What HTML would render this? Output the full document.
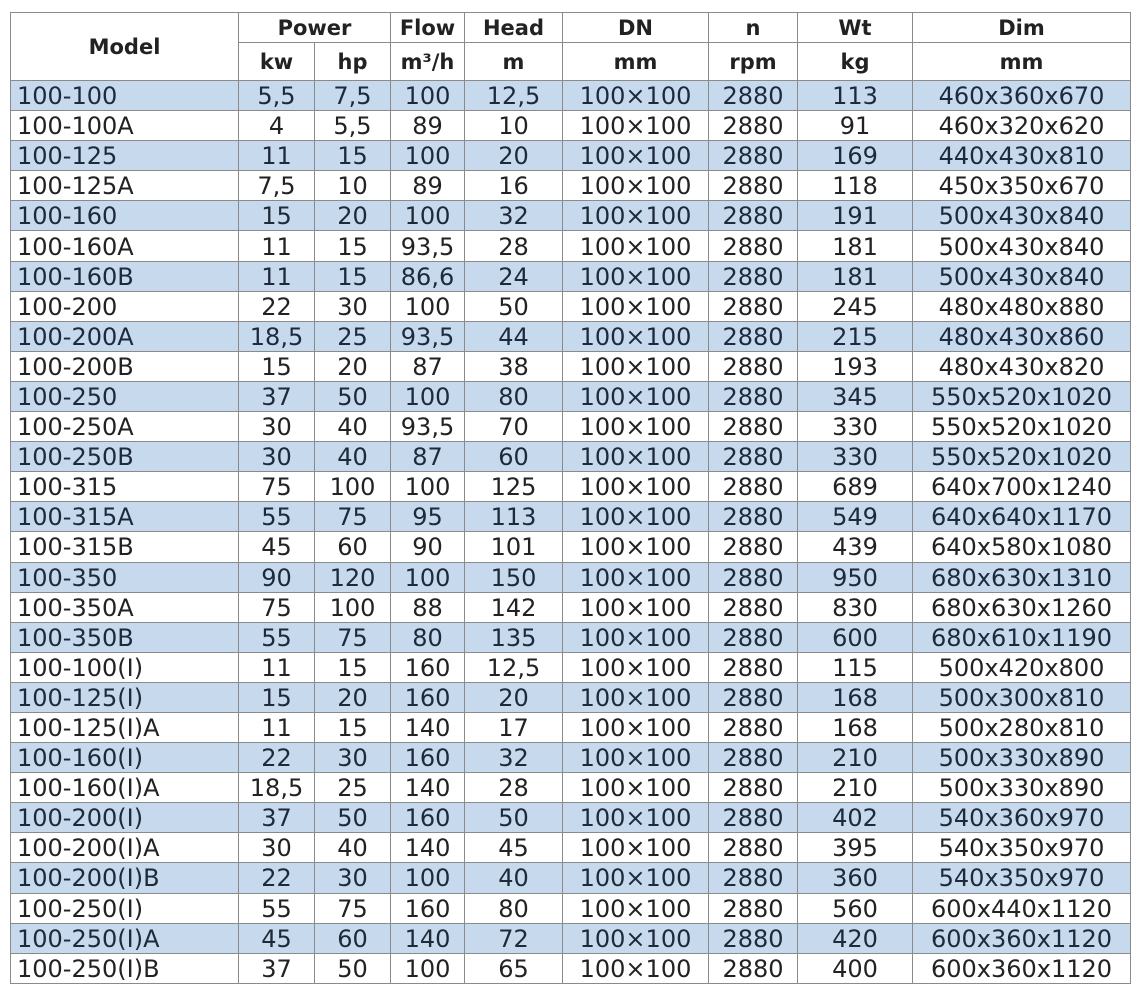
<!DOCTYPE html>
<html><head><meta charset="utf-8"><style>
body{margin:0;background:#fff;width:1147px;height:1000px;overflow:hidden}
table{position:absolute;left:10px;top:12px;border-collapse:collapse;table-layout:fixed;font-family:"DejaVu Sans","Liberation Sans",sans-serif;color:#222}
td,th{border:1.5px solid #8a8a8a;padding:0;text-align:center;white-space:nowrap;overflow:hidden}
th{font-weight:bold;font-size:21px;color:#222}
td{font-size:24px;height:28.1px;line-height:28px;padding-top:1px}
td:first-child{text-align:left;padding-left:6px}
tr.b td{background:#c6d9ed;color:#1d2a3a}
</style></head><body>
<table>
<colgroup><col style="width:228px"><col style="width:76px"><col style="width:76px"><col style="width:74px"><col style="width:98px"><col style="width:146px"><col style="width:89px"><col style="width:115px"><col style="width:218px"></colgroup>
<tr style="height:30px"><th rowspan="2">Model</th><th colspan="2">Power</th><th>Flow</th><th>Head</th><th>DN</th><th>n</th><th>Wt</th><th>Dim</th></tr>
<tr style="height:38px"><th>kw</th><th>hp</th><th>m³/h</th><th>m</th><th>mm</th><th>rpm</th><th>kg</th><th>mm</th></tr>
<tr class="b"><td>100-100</td><td>5,5</td><td>7,5</td><td>100</td><td>12,5</td><td>100×100</td><td>2880</td><td>113</td><td>460x360x670</td></tr>
<tr><td>100-100A</td><td>4</td><td>5,5</td><td>89</td><td>10</td><td>100×100</td><td>2880</td><td>91</td><td>460x320x620</td></tr>
<tr class="b"><td>100-125</td><td>11</td><td>15</td><td>100</td><td>20</td><td>100×100</td><td>2880</td><td>169</td><td>440x430x810</td></tr>
<tr><td>100-125A</td><td>7,5</td><td>10</td><td>89</td><td>16</td><td>100×100</td><td>2880</td><td>118</td><td>450x350x670</td></tr>
<tr class="b"><td>100-160</td><td>15</td><td>20</td><td>100</td><td>32</td><td>100×100</td><td>2880</td><td>191</td><td>500x430x840</td></tr>
<tr><td>100-160A</td><td>11</td><td>15</td><td>93,5</td><td>28</td><td>100×100</td><td>2880</td><td>181</td><td>500x430x840</td></tr>
<tr class="b"><td>100-160B</td><td>11</td><td>15</td><td>86,6</td><td>24</td><td>100×100</td><td>2880</td><td>181</td><td>500x430x840</td></tr>
<tr><td>100-200</td><td>22</td><td>30</td><td>100</td><td>50</td><td>100×100</td><td>2880</td><td>245</td><td>480x480x880</td></tr>
<tr class="b"><td>100-200A</td><td>18,5</td><td>25</td><td>93,5</td><td>44</td><td>100×100</td><td>2880</td><td>215</td><td>480x430x860</td></tr>
<tr><td>100-200B</td><td>15</td><td>20</td><td>87</td><td>38</td><td>100×100</td><td>2880</td><td>193</td><td>480x430x820</td></tr>
<tr class="b"><td>100-250</td><td>37</td><td>50</td><td>100</td><td>80</td><td>100×100</td><td>2880</td><td>345</td><td>550x520x1020</td></tr>
<tr><td>100-250A</td><td>30</td><td>40</td><td>93,5</td><td>70</td><td>100×100</td><td>2880</td><td>330</td><td>550x520x1020</td></tr>
<tr class="b"><td>100-250B</td><td>30</td><td>40</td><td>87</td><td>60</td><td>100×100</td><td>2880</td><td>330</td><td>550x520x1020</td></tr>
<tr><td>100-315</td><td>75</td><td>100</td><td>100</td><td>125</td><td>100×100</td><td>2880</td><td>689</td><td>640x700x1240</td></tr>
<tr class="b"><td>100-315A</td><td>55</td><td>75</td><td>95</td><td>113</td><td>100×100</td><td>2880</td><td>549</td><td>640x640x1170</td></tr>
<tr><td>100-315B</td><td>45</td><td>60</td><td>90</td><td>101</td><td>100×100</td><td>2880</td><td>439</td><td>640x580x1080</td></tr>
<tr class="b"><td>100-350</td><td>90</td><td>120</td><td>100</td><td>150</td><td>100×100</td><td>2880</td><td>950</td><td>680x630x1310</td></tr>
<tr><td>100-350A</td><td>75</td><td>100</td><td>88</td><td>142</td><td>100×100</td><td>2880</td><td>830</td><td>680x630x1260</td></tr>
<tr class="b"><td>100-350B</td><td>55</td><td>75</td><td>80</td><td>135</td><td>100×100</td><td>2880</td><td>600</td><td>680x610x1190</td></tr>
<tr><td>100-100(I)</td><td>11</td><td>15</td><td>160</td><td>12,5</td><td>100×100</td><td>2880</td><td>115</td><td>500x420x800</td></tr>
<tr class="b"><td>100-125(I)</td><td>15</td><td>20</td><td>160</td><td>20</td><td>100×100</td><td>2880</td><td>168</td><td>500x300x810</td></tr>
<tr><td>100-125(I)A</td><td>11</td><td>15</td><td>140</td><td>17</td><td>100×100</td><td>2880</td><td>168</td><td>500x280x810</td></tr>
<tr class="b"><td>100-160(I)</td><td>22</td><td>30</td><td>160</td><td>32</td><td>100×100</td><td>2880</td><td>210</td><td>500x330x890</td></tr>
<tr><td>100-160(I)A</td><td>18,5</td><td>25</td><td>140</td><td>28</td><td>100×100</td><td>2880</td><td>210</td><td>500x330x890</td></tr>
<tr class="b"><td>100-200(I)</td><td>37</td><td>50</td><td>160</td><td>50</td><td>100×100</td><td>2880</td><td>402</td><td>540x360x970</td></tr>
<tr><td>100-200(I)A</td><td>30</td><td>40</td><td>140</td><td>45</td><td>100×100</td><td>2880</td><td>395</td><td>540x350x970</td></tr>
<tr class="b"><td>100-200(I)B</td><td>22</td><td>30</td><td>100</td><td>40</td><td>100×100</td><td>2880</td><td>360</td><td>540x350x970</td></tr>
<tr><td>100-250(I)</td><td>55</td><td>75</td><td>160</td><td>80</td><td>100×100</td><td>2880</td><td>560</td><td>600x440x1120</td></tr>
<tr class="b"><td>100-250(I)A</td><td>45</td><td>60</td><td>140</td><td>72</td><td>100×100</td><td>2880</td><td>420</td><td>600x360x1120</td></tr>
<tr><td>100-250(I)B</td><td>37</td><td>50</td><td>100</td><td>65</td><td>100×100</td><td>2880</td><td>400</td><td>600x360x1120</td></tr>
</table>
</body></html>
